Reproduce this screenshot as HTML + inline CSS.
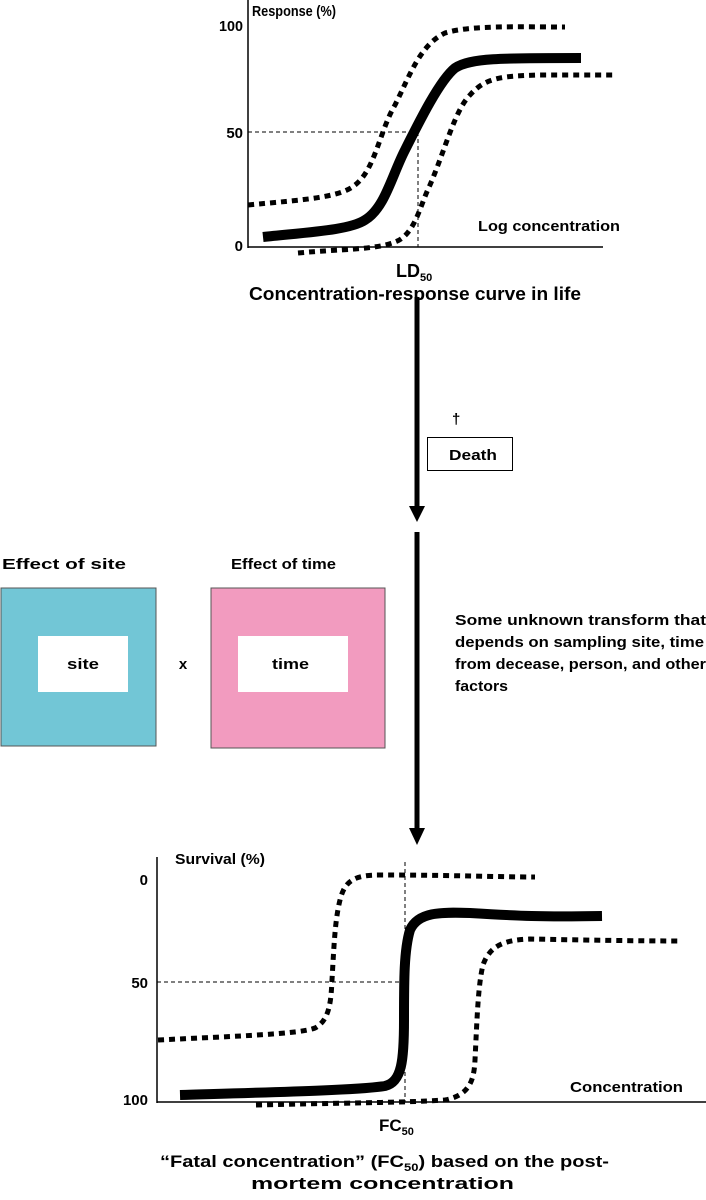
<!DOCTYPE html>
<html><head><meta charset="utf-8"><style>
html,body{margin:0;padding:0;background:#fff;}
svg text{font-family:"Liberation Sans",sans-serif;font-weight:bold;fill:#000;}
</style></head><body>
<svg width="706" height="1195" viewBox="0 0 706 1195" xmlns="http://www.w3.org/2000/svg">
<!-- Top chart -->
<line x1="248" y1="0" x2="248" y2="248" stroke="#000" stroke-width="1.5"/>
<line x1="248" y1="247" x2="603" y2="247" stroke="#000" stroke-width="1.5"/>
<line x1="248" y1="132" x2="418" y2="132" stroke="#000" stroke-width="1" stroke-dasharray="4,3"/>
<line x1="418" y1="132" x2="418" y2="247" stroke="#000" stroke-width="1" stroke-dasharray="4,3"/>
<path d="M263,237 C310,232 350,230 365,220 C385,208 392,175 405,150 C420,120 440,80 455,68 C470,58 500,58 581,58" fill="none" stroke="#000" stroke-width="10"/>
<path d="M248,205 C300,200 340,198 355,185 C375,170 380,130 395,105 C410,75 420,45 445,33 C470,25 520,27 565,27" fill="none" stroke="#000" stroke-width="5" stroke-dasharray="6,5"/>
<path d="M298,253 C340,249 375,250 395,242 C415,235 420,205 430,185 C445,150 455,110 470,95 C485,78 500,76 540,75 C580,75 600,75 615,75" fill="none" stroke="#000" stroke-width="5" stroke-dasharray="6,5"/>
<text x="252" y="16" font-size="15" textLength="84" lengthAdjust="spacingAndGlyphs">Response (%)</text>
<text x="219" y="31" font-size="15" textLength="24" lengthAdjust="spacingAndGlyphs">100</text>
<text x="243" y="138" font-size="15" text-anchor="end">50</text>
<text x="243" y="251" font-size="15" text-anchor="end">0</text>
<text x="478" y="231" font-size="15" textLength="142" lengthAdjust="spacingAndGlyphs">Log concentration</text>
<text x="396" y="277" font-size="18">LD<tspan font-size="11" dy="4">50</tspan></text>
<text x="249" y="300" font-size="18" textLength="332" lengthAdjust="spacingAndGlyphs">Concentration-response curve in life</text>

<!-- arrows -->
<line x1="417" y1="297" x2="417" y2="508" stroke="#000" stroke-width="5"/>
<polygon points="409,506 425,506 417,522" fill="#000"/>
<line x1="417" y1="532" x2="417" y2="830" stroke="#000" stroke-width="5"/>
<polygon points="409,828 425,828 417,845" fill="#000"/>
<text x="452" y="424" font-size="15">†</text>
<rect x="427.5" y="437.5" width="85" height="33" fill="#fff" stroke="#000" stroke-width="1"/>
<text x="449" y="460" font-size="15" textLength="48" lengthAdjust="spacingAndGlyphs">Death</text>

<!-- boxes -->
<text x="2" y="569" font-size="15" textLength="124" lengthAdjust="spacingAndGlyphs">Effect of site</text>
<text x="231" y="569" font-size="15" textLength="105" lengthAdjust="spacingAndGlyphs">Effect of time</text>
<rect x="1" y="588" width="155" height="158" fill="#72c6d6" stroke="#555" stroke-width="1"/>
<rect x="38" y="636" width="90" height="56" fill="#fff"/>
<text x="67" y="669" font-size="15" textLength="32" lengthAdjust="spacingAndGlyphs">site</text>
<text x="183" y="669" font-size="15" text-anchor="middle">x</text>
<rect x="211" y="588" width="174" height="160" fill="#f29bbf" stroke="#555" stroke-width="1"/>
<rect x="238" y="636" width="110" height="56" fill="#fff"/>
<text x="272" y="669" font-size="15" textLength="37" lengthAdjust="spacingAndGlyphs">time</text>
<text x="455" y="625" font-size="15" textLength="251" lengthAdjust="spacingAndGlyphs">Some unknown transform that</text>
<text x="455" y="647" font-size="15" textLength="249" lengthAdjust="spacingAndGlyphs">depends on sampling site, time</text>
<text x="455" y="669" font-size="15" textLength="251" lengthAdjust="spacingAndGlyphs">from decease, person, and other</text>
<text x="455" y="691" font-size="15" textLength="53" lengthAdjust="spacingAndGlyphs">factors</text>

<!-- Bottom chart -->
<line x1="157" y1="857" x2="157" y2="1103" stroke="#000" stroke-width="1.5"/>
<line x1="157" y1="1102" x2="706" y2="1102" stroke="#000" stroke-width="1.5"/>
<line x1="157" y1="982" x2="405" y2="982" stroke="#000" stroke-width="1" stroke-dasharray="4,3"/>
<line x1="405" y1="862" x2="405" y2="1102" stroke="#000" stroke-width="1" stroke-dasharray="4,3"/>
<path d="M180,1095 C280,1092 360,1090 385,1086 C402,1082 404,1060 404,1020 C404,980 404,950 410,930 C418,912 440,912 470,913 C520,916 540,917 602,916" fill="none" stroke="#000" stroke-width="10"/>
<path d="M158,1040 C240,1036 300,1034 315,1028 C330,1020 331,1000 332,980 C334,945 335,920 340,900 C345,880 355,875 380,875 C450,875 500,877 535,877" fill="none" stroke="#000" stroke-width="5" stroke-dasharray="6,5"/>
<path d="M256,1105 C330,1103 400,1103 445,1100 C470,1095 474,1080 475,1060 C477,1020 478,985 483,965 C490,945 505,940 530,939 C580,940 640,941 680,941" fill="none" stroke="#000" stroke-width="5" stroke-dasharray="6,5"/>
<text x="175" y="864" font-size="15" textLength="90" lengthAdjust="spacingAndGlyphs">Survival (%)</text>
<text x="148" y="885" font-size="15" text-anchor="end">0</text>
<text x="148" y="988" font-size="15" text-anchor="end">50</text>
<text x="148" y="1105" font-size="15" text-anchor="end">100</text>
<text x="570" y="1092" font-size="15" textLength="113" lengthAdjust="spacingAndGlyphs">Concentration</text>
<text x="379" y="1131" font-size="17">FC<tspan font-size="11" dy="4">50</tspan></text>
<text x="160" y="1167" font-size="17" textLength="449" lengthAdjust="spacingAndGlyphs">“Fatal concentration” (FC<tspan font-size="11" dy="4">50</tspan><tspan dy="-4">) based on the post-</tspan></text>
<text x="251" y="1189" font-size="17" textLength="263" lengthAdjust="spacingAndGlyphs">mortem concentration</text>
</svg>
</body></html>
